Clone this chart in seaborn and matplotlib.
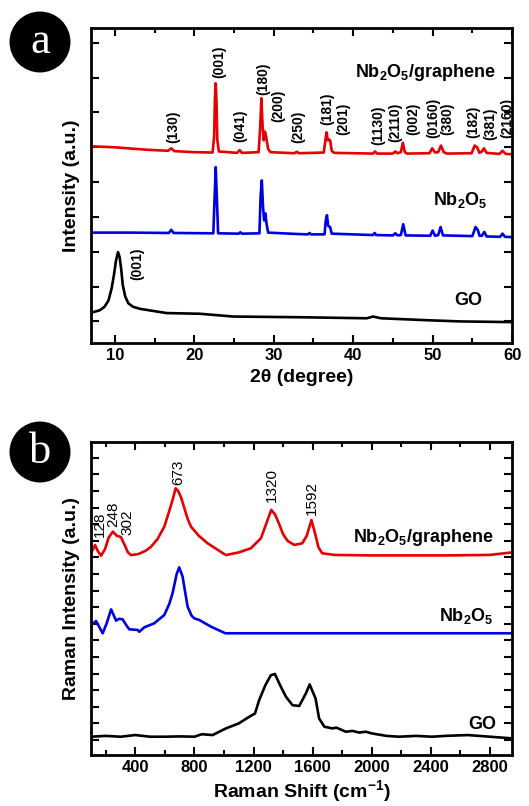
import numpy as np
import pandas as pd
import matplotlib
matplotlib.use('Agg')
import matplotlib.pyplot as plt
import seaborn as sns
from matplotlib.ticker import MultipleLocator

sns.set_theme(style='ticks')
plt.rcParams['font.family'] = ['Liberation Sans', 'DejaVu Sans']
plt.rcParams['mathtext.default'] = 'regular'
plt.rcParams['text.color'] = 'black'
plt.rcParams['axes.labelcolor'] = 'black'
plt.rcParams['xtick.color'] = 'black'
plt.rcParams['ytick.color'] = 'black'
plt.rcParams['axes.edgecolor'] = 'black'

# ---- XRD data (2theta, offset intensity) ----
xrd_tt_red = [7.0, 10, 14, 16.7, 17.1, 17.5, 20, 22.3, 22.5, 22.6, 22.7, 22.8, 22.9, 23.1,
              25.4, 25.7, 26.0, 28.1, 28.3, 28.45, 28.6, 28.75, 28.9, 29.05, 29.3, 29.6,
              32.6, 32.9, 33.2, 36.3, 36.5, 36.65, 36.8, 37.0, 37.1, 37.3, 37.6,
              42.5, 42.75, 43.0, 45.0, 45.3, 45.6, 46.0, 46.25, 46.5, 46.8,
              49.6, 49.95, 50.3, 50.7, 51.05, 51.4, 51.8, 54.9, 55.3, 55.6, 55.9,
              56.2, 56.45, 56.8, 58.4, 58.8, 59.2, 60]
xrd_int_red = [5.03, 5.0, 4.93, 4.90, 4.97, 4.89, 4.86, 4.85, 5.3, 6.4, 6.84, 6.3, 5.2, 4.88,
               4.84, 4.92, 4.84, 4.86, 5.6, 6.41, 5.6, 5.2, 5.45, 5.3, 4.95, 4.86,
               4.83, 4.87, 4.83, 4.85, 5.2, 5.43, 5.2, 5.22, 5.2, 4.9, 4.84,
               4.82, 4.88, 4.82, 4.82, 4.88, 4.83, 4.86, 5.13, 4.86, 4.82,
               4.83, 4.97, 4.85, 4.86, 5.05, 4.86, 4.82, 4.83, 5.05, 5.0, 4.84,
               4.88, 4.97, 4.84, 4.81, 4.9, 4.81, 4.80]

xrd_tt_blue = [7, 12, 16.8, 17.1, 17.4, 22.4, 22.55, 22.7, 22.85, 23.0, 25.6, 25.8, 26.0,
               28.2, 28.35, 28.5, 28.65, 28.8, 28.95, 29.1, 29.3, 33.0, 34.3, 34.5, 34.7,
               36.4, 36.55, 36.7, 36.85, 37.0, 37.1, 37.3, 42.5, 42.7, 42.9, 45.0, 45.3, 45.6,
               46.0, 46.3, 46.6, 49.7, 50.0, 50.3, 50.7, 51.0, 51.3, 55.0, 55.4, 55.7, 55.9,
               56.2, 56.5, 56.8, 58.5, 58.8, 59.1, 60]
xrd_int_blue = [2.55, 2.55, 2.54, 2.63, 2.54, 2.53, 3.5, 4.43, 3.5, 2.53, 2.52, 2.56, 2.52,
                2.53, 3.6, 4.05, 3.3, 2.9, 3.1, 2.8, 2.55, 2.51, 2.5, 2.54, 2.5,
                2.5, 2.9, 3.05, 2.75, 2.72, 2.71, 2.52, 2.48, 2.54, 2.48, 2.47, 2.53, 2.47,
                2.48, 2.79, 2.47, 2.46, 2.61, 2.46, 2.48, 2.71, 2.47, 2.45, 2.71, 2.62, 2.46,
                2.46, 2.57, 2.44, 2.43, 2.52, 2.43, 2.42]

xrd_tt_go = [7.0, 8.1, 8.7, 9.2, 9.6, 9.9, 10.15, 10.4, 10.6, 10.8, 11.0, 11.3, 11.7, 12.3,
             13.2, 16.5, 20.7, 24.9, 33.3, 41.7, 42.5, 43.5, 49.8, 53.5, 60]
xrd_int_go = [0.25, 0.32, 0.42, 0.6, 0.95, 1.35, 1.75, 1.99, 1.85, 1.5, 1.05, 0.72, 0.52, 0.42,
              0.36, 0.24, 0.22, 0.14, 0.12, 0.09, 0.14, 0.09, 0.03, 0.0, -0.02]

xrd_hkl = ['(130)', '(001)', '(041)', '(180)', '(200)', '(250)', '(181)', '(201)', '(1130)',
           '(2110)', '(002)', '(0160)', '(380)', '(182)', '(381)', '(2160)']
xrd_hkl_x = [17.3, 23.2, 25.8, 28.7, 30.6, 33.1, 36.7, 38.8, 43.2, 45.3, 47.5, 50.1, 51.9,
             55.1, 57.3, 59.4]
xrd_hkl_y = [5.11, 6.98, 5.14, 6.49, 5.72, 5.11, 5.63, 5.34, 5.06, 5.14, 5.34, 5.26, 5.34,
             5.26, 5.20, 5.26]

# ---- Raman data ----
ram_x_red = [100, 115, 128, 145, 168, 195, 220, 248, 275, 302, 325, 350, 371, 420, 470, 506,
             550, 596, 630, 652, 673, 690, 710, 731, 755, 777, 830, 889, 950, 1013, 1100, 1182,
             1250, 1285, 1320, 1345, 1374, 1400, 1430, 1475, 1530, 1560, 1592, 1615, 1640,
             1665, 1746, 2000, 2500, 2800, 2950]
ram_y_red = [11.3, 11.5, 11.75, 11.4, 11.1, 11.5, 12.2, 12.55, 12.3, 12.23, 11.8, 11.3, 11.14,
             11.2, 11.4, 11.64, 12.1, 12.85, 13.8, 14.46, 15.16, 15.0, 14.6, 14.0, 13.3, 12.85,
             12.3, 11.85, 11.5, 11.14, 11.3, 11.55, 12.15, 13.0, 13.86, 13.6, 13.0, 12.4, 12.0,
             11.75, 11.85, 12.3, 13.25, 12.5, 11.6, 11.25, 11.15, 11.12, 11.12, 11.15, 11.3]

ram_x_blue = [100, 134, 179, 205, 236, 270, 290, 314, 340, 359, 416, 427, 461, 528, 596, 630,
              652, 680, 697, 720, 754, 780, 799, 833, 912, 1002, 1010, 2950]
ram_y_blue = [6.9, 7.17, 6.43, 7.0, 7.87, 7.19, 7.3, 7.27, 6.9, 6.67, 6.63, 6.52, 6.79, 7.03,
              7.53, 8.2, 8.84, 10.0, 10.4, 9.84, 8.03, 7.5, 7.33, 7.23, 6.83, 6.46, 6.43, 6.43]

ram_x_go = [100, 200, 300, 400, 500, 600, 700, 800, 850, 923, 1013, 1100, 1171, 1210, 1238,
            1280, 1317, 1345, 1380, 1420, 1464, 1509, 1554, 1580, 1620, 1644, 1680, 1735,
            1760, 1825, 1870, 1915, 1960, 2000, 2100, 2185, 2300, 2408, 2500, 2650, 2800, 2950]
ram_y_go = [0.2, 0.25, 0.2, 0.3, 0.2, 0.2, 0.22, 0.2, 0.35, 0.3, 0.7, 1.0, 1.4, 1.6, 2.4,
            3.3, 3.9, 3.98, 3.3, 2.6, 2.1, 2.05, 2.8, 3.35, 2.5, 1.3, 0.8, 0.7,
            0.75, 0.5, 0.55, 0.45, 0.5, 0.4, 0.25, 0.2, 0.25, 0.2, 0.25, 0.3, 0.2, 0.1]

ram_peaks = ['128', '248', '302', '673', '1320', '1592']
ram_peak_x = [157, 253, 348, 691, 1322, 1595]
ram_peak_y = [12.23, 12.83, 12.35, 15.36, 14.34, 13.55]

red, blue, black = '#e60000', '#0000e0', '#000000'

fig = plt.figure(figsize=(5.29, 8.06), dpi=100)
ax1 = fig.add_axes([0.172, 0.574, 0.796, 0.391])
ax2 = fig.add_axes([0.172, 0.0633, 0.796, 0.3883])

for xs, ys, c in [(xrd_tt_red, xrd_int_red, red), (xrd_tt_blue, xrd_int_blue, blue),
                  (xrd_tt_go, xrd_int_go, black)]:
    sns.lineplot(data=pd.DataFrame({'x': xs, 'y': ys}), x='x', y='y', ax=ax1,
                 color=c, lw=1.9, estimator=None, sort=False)

for xs, ys, c in [(ram_x_red, ram_y_red, red), (ram_x_blue, ram_y_blue, blue),
                  (ram_x_go, ram_y_go, black)]:
    sns.lineplot(data=pd.DataFrame({'x': xs, 'y': ys}), x='x', y='y', ax=ax2,
                 color=c, lw=1.9, estimator=None, sort=False)

# hkl labels
for t, x, y in zip(xrd_hkl, xrd_hkl_x, xrd_hkl_y):
    ax1.text(x, y, t, rotation=90, ha='center', va='bottom', fontsize=10, fontweight='bold')
ax1.text(12.8, 1.18, '(001)', rotation=90, ha='center', va='bottom', fontsize=10,
         fontweight='bold')

for t, x, y in zip(ram_peaks, ram_peak_x, ram_peak_y):
    ax2.text(x, y, t, rotation=90, ha='center', va='bottom', fontsize=11)

# sample names
nbg = r'Nb$_2$O$_5$/graphene'
nb = r'Nb$_2$O$_5$'
ax1.text(57.9, 7.16, nbg, ha='right', va='center', fontsize=13, fontweight='bold')
ax1.text(56.9, 3.48, nb, ha='right', va='center', fontsize=13, fontweight='bold')
ax1.text(56.3, 0.6, 'GO', ha='right', va='center', fontsize=13, fontweight='bold')
ax2.text(2827, 12.2, nbg, ha='right', va='center', fontsize=13, fontweight='bold')
ax2.text(2827, 7.5, nb, ha='right', va='center', fontsize=13, fontweight='bold')
ax2.text(2841, 0.96, 'GO', ha='right', va='center', fontsize=13, fontweight='bold')

# axes styling
ax1.set_xlim(7, 60)
ax1.set_ylim(-0.63, 8.42)
ax1.xaxis.set_major_locator(MultipleLocator(10))
ax1.xaxis.set_minor_locator(MultipleLocator(5))
ax1.yaxis.set_major_locator(MultipleLocator(1))
ax1.set_xlabel('2θ (degree)', fontsize=14, fontweight='bold', labelpad=4)
ax1.set_ylabel('Intensity (a.u.)', fontsize=14, fontweight='bold', labelpad=8)

ax2.set_xlim(100, 2950)
ax2.set_ylim(-0.9, 17.95)
ax2.xaxis.set_major_locator(MultipleLocator(400))
ax2.xaxis.set_minor_locator(MultipleLocator(200))
ax2.yaxis.set_major_locator(MultipleLocator(1))
ax2.set_xlabel('Raman Shift (cm$^{-1}$)', fontsize=14, fontweight='bold', labelpad=2)
ax2.set_ylabel('Raman Intensity (a.u.)', fontsize=14, fontweight='bold', labelpad=8)

for ax in (ax1, ax2):
    ax.tick_params(which='both', direction='in', top=True, right=True, width=1.5,
                   color='black')
    ax.tick_params(which='major', length=6, labelsize=12)
    ax.tick_params(which='minor', length=3.5)
    ax.tick_params(axis='y', labelleft=False)
    for lab in ax.get_xticklabels():
        lab.set_fontweight('bold')
    for s in ax.spines.values():
        s.set_linewidth(2)
        s.set_color('black')
        s.set_visible(True)

# panel letters
for lbl, ypos in [('a', 1 - 42 / 806), ('b', 1 - 452 / 806)]:
    fig.text(40 / 529, ypos, lbl, fontsize=32, color='white', family='Liberation Serif',
             ha='center', va='center',
             bbox=dict(boxstyle='circle,pad=0.22', fc='black', ec='black'))

fig.savefig('out.png', dpi=100)
